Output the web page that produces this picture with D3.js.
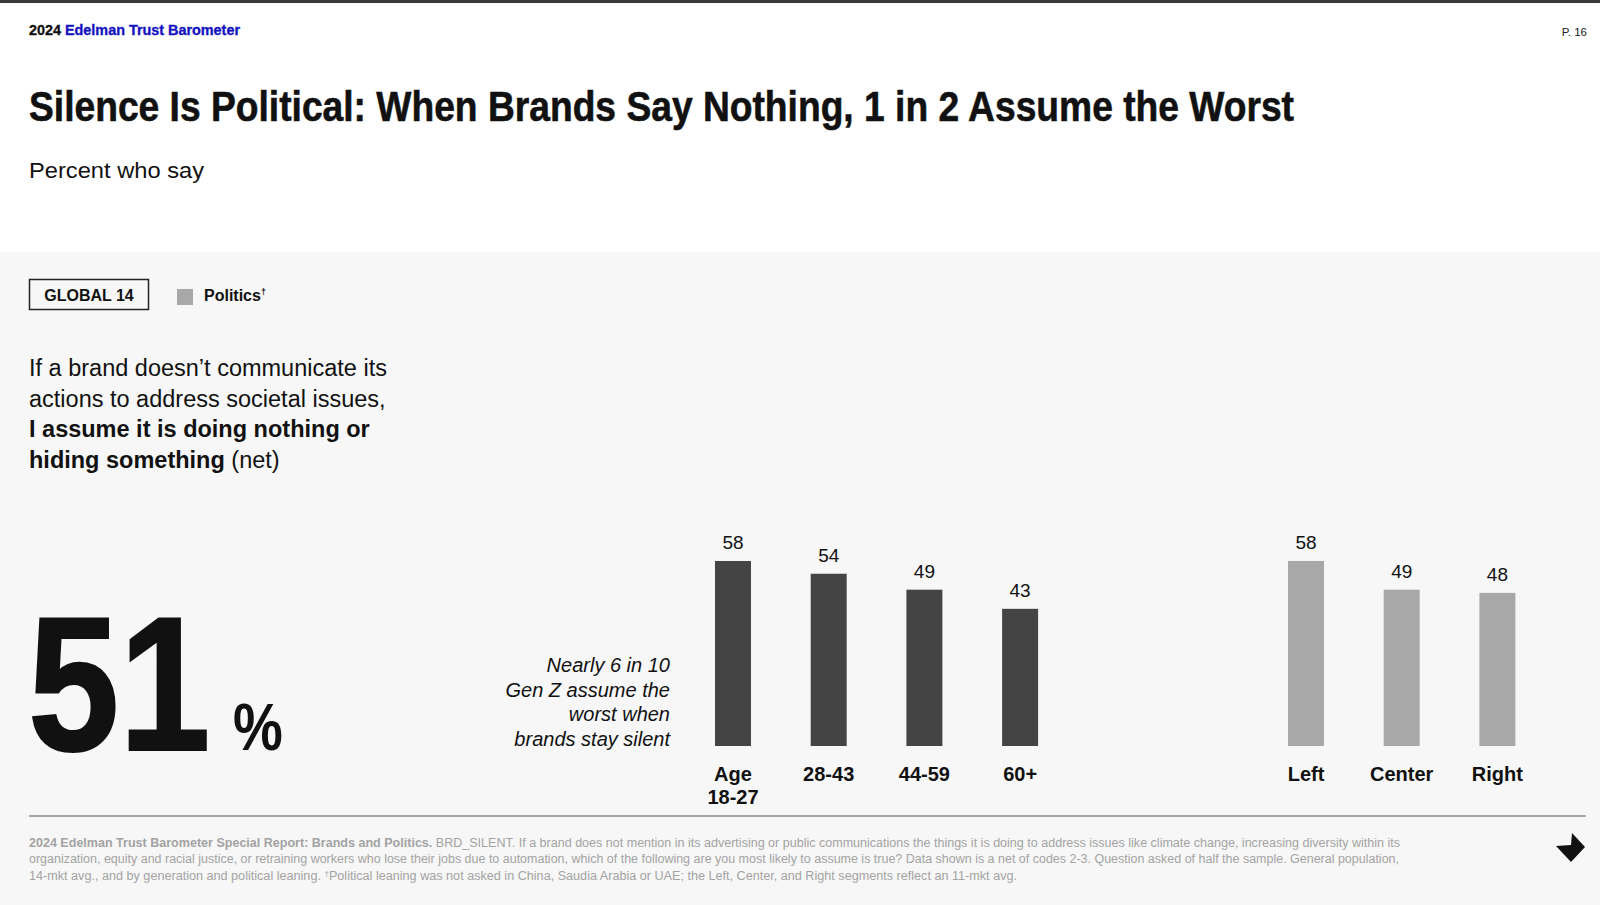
<!DOCTYPE html>
<html>
<head>
<meta charset="utf-8">
<script src="https://cdn.jsdelivr.net/npm/d3@7"></script>
<style>
  html, body { margin: 0; padding: 0; background: #ffffff; }
  svg { display: block; }
  text { font-family: "Liberation Sans", Arial, Helvetica, sans-serif; }
</style>
</head>
<body>
<svg id="chart" width="1600" height="905"></svg>
<script>
// ---- Data ----
const ageCategories = ["Age 18-27", "28-43", "44-59", "60+"];
const ageValues = [58, 54, 49, 43];
const politicsCategories = ["Left", "Center", "Right"];
const politicsValues = [58, 49, 48];
const headlineValue = 51;
const legendLabels = ["Politics"];

const W = 1600, H = 905;
const svg = d3.select("#chart");

// Backgrounds
svg.append("rect").attr("x", 0).attr("y", 0).attr("width", W).attr("height", H).attr("fill", "#ffffff");
svg.append("rect").attr("x", 0).attr("y", 252).attr("width", W).attr("height", H - 252).attr("fill", "#f7f7f7");
svg.append("rect").attr("x", 0).attr("y", 0).attr("width", W).attr("height", 3).attr("fill", "#3a3a3a");

// Header
const hdr = svg.append("text").attr("x", 29).attr("y", 35)
  .attr("font-size", 15.5).attr("font-weight", "bold")
  .attr("textLength", 211).attr("lengthAdjust", "spacingAndGlyphs");
hdr.append("tspan").attr("fill", "#111").attr("stroke", "#111").attr("stroke-width", 0.35).text("2024 ");
hdr.append("tspan").attr("fill", "#1212c0").attr("stroke", "#1212c0").attr("stroke-width", 0.35).text("Edelman Trust Barometer");

svg.append("text").attr("x", 1587).attr("y", 36).attr("text-anchor", "end")
  .attr("font-size", 11.5).attr("fill", "#222").text("P. 16");

// Title
svg.append("text").attr("x", 29).attr("y", 121)
  .attr("font-size", 42).attr("font-weight", "bold").attr("fill", "#111")
  .attr("stroke", "#111").attr("stroke-width", 0.6)
  .attr("textLength", 1265).attr("lengthAdjust", "spacingAndGlyphs")
  .text("Silence Is Political: When Brands Say Nothing, 1 in 2 Assume the Worst");

svg.append("text").attr("x", 29).attr("y", 178)
  .attr("font-size", 22.5).attr("fill", "#111")
  .attr("textLength", 175).attr("lengthAdjust", "spacingAndGlyphs")
  .text("Percent who say");

// GLOBAL 14 box
svg.append("rect").attr("x", 29.5).attr("y", 279.5).attr("width", 119).attr("height", 30)
  .attr("fill", "none").attr("stroke", "#222").attr("stroke-width", 1.5);
svg.append("text").attr("x", 89).attr("y", 301).attr("text-anchor", "middle")
  .attr("font-size", 16).attr("font-weight", "bold").attr("fill", "#111")
  .text("GLOBAL 14");

// Legend
svg.append("rect").attr("x", 177).attr("y", 289).attr("width", 16).attr("height", 16).attr("fill", "#a8a8a8");
const lg = svg.append("text").attr("x", 204).attr("y", 301)
  .attr("font-size", 16).attr("font-weight", "bold").attr("fill", "#111");
lg.append("tspan").text(legendLabels[0]);
lg.append("tspan").attr("font-size", 9).attr("dy", -6).text("†");

// Question text
const qLines = [
  [{t: "If a brand doesn\u2019t communicate its", b: false}],
  [{t: "actions to address societal issues,", b: false}],
  [{t: "I assume it is doing nothing or", b: true}],
  [{t: "hiding something", b: true}, {t: " (net)", b: false}]
];
qLines.forEach((line, i) => {
  const t = svg.append("text").attr("x", 29).attr("y", 376 + i * 30.7)
    .attr("font-size", 23.5).attr("fill", "#111");
  line.forEach(s => t.append("tspan").attr("font-weight", s.b ? "bold" : "normal").text(s.t));
});

// Big number (horizontally condensed via vertical stretch)
svg.append("text").attr("transform", "translate(28,750) scale(1,1.17)")
  .attr("font-size", 164).attr("font-weight", "bold").attr("fill", "#111")
  .attr("stroke", "#111").attr("stroke-width", 1.8)
  .text(String(headlineValue));
svg.append("text").attr("transform", "translate(233,750) scale(1,1.2)")
  .attr("font-size", 56).attr("font-weight", "bold").attr("fill", "#111")
  .text("%");

// Annotation
const annot = ["Nearly 6 in 10", "Gen Z assume the", "worst when", "brands stay silent"];
annot.forEach((s, i) => {
  svg.append("text").attr("x", 670).attr("y", 672 + i * 24.6).attr("text-anchor", "end")
    .attr("font-size", 20).attr("font-style", "italic").attr("fill", "#111").text(s);
});

// Scales
const y = d3.scaleLinear().domain([0, 100]).range([746, 427]);
const xAge = d3.scaleBand().domain(ageCategories).range([715, 1038.1]).paddingInner(0.624).paddingOuter(0);
const xPol = d3.scaleBand().domain(politicsCategories).range([1288, 1515.4]).paddingInner(0.624).paddingOuter(0);

function drawGroup(cats, vals, x, color) {
  const data = cats.map((c, i) => ({c, v: vals[i]}));
  const g = svg.append("g");
  g.selectAll("rect").data(data).join("rect")
    .attr("x", d => x(d.c)).attr("width", x.bandwidth())
    .attr("y", d => y(d.v)).attr("height", d => y(0) - y(d.v))
    .attr("fill", color);
  g.selectAll("text.val").data(data).join("text").attr("class", "val")
    .attr("x", d => x(d.c) + x.bandwidth() / 2).attr("y", d => y(d.v) - 12)
    .attr("text-anchor", "middle").attr("font-size", 19).attr("fill", "#111")
    .text(d => d.v);
  // axis labels
  const axis = d3.axisBottom(x).tickSize(0).tickPadding(0);
  const ag = svg.append("g").attr("transform", `translate(0,${y(0)})`).call(axis);
  ag.select(".domain").remove();
  ag.selectAll(".tick text").each(function(d) {
    const el = d3.select(this);
    el.text(null).attr("font-size", 20).attr("font-weight", "bold").attr("fill", "#111")
      .attr("font-family", "Liberation Sans, Arial, sans-serif").attr("dy", null).attr("y", 0);
    const parts = d.startsWith("Age ") ? ["Age", d.slice(4)] : [d];
    parts.forEach((p, i) => el.append("tspan").attr("x", 0).attr("y", 35 + i * 23).text(p));
  });
}
drawGroup(ageCategories, ageValues, xAge, "#444444");
drawGroup(politicsCategories, politicsValues, xPol, "#a8a8a8");

// Rule
svg.append("line").attr("x1", 29).attr("x2", 1586).attr("y1", 816).attr("y2", 816)
  .attr("stroke", "#8a8a8a").attr("stroke-width", 1.5);

// Footnote
const fn = [
  {w: 1371, parts: [{t: "2024 Edelman Trust Barometer Special Report: Brands and Politics.", b: true},
    {t: " BRD_SILENT. If a brand does not mention in its advertising or public communications the things it is doing to address issues like climate change, increasing diversity within its", b: false}]},
  {w: 1370, parts: [{t: "organization, equity and racial justice, or retraining workers who lose their jobs due to automation, which of the following are you most likely to assume is true? Data shown is a net of codes 2-3. Question asked of half the sample. General population,", b: false}]},
  {w: 988, parts: [{t: "14-mkt avg., and by generation and political leaning.  ", b: false}, {t: "†", b: false, sup: true},
    {t: "Political leaning was not asked in China, Saudia Arabia or UAE; the Left, Center, and Right segments reflect an 11-mkt avg.", b: false}]}
];
fn.forEach((line, i) => {
  const t = svg.append("text").attr("x", 29).attr("y", 847 + i * 16.3)
    .attr("font-size", 12.5).attr("fill", "#a3a3a3")
    .attr("textLength", line.w).attr("lengthAdjust", "spacingAndGlyphs");
  line.parts.forEach(s => {
    const ts = t.append("tspan").attr("font-weight", s.b ? "bold" : "normal").text(s.t);
    if (s.sup) ts.attr("font-size", 8).attr("baseline-shift", "super");
  });
});

// Arrow
const arrowPts = [[1572, 833], [1585, 847], [1571, 862], [1556, 846], [1571, 845]];
svg.append("path").attr("d", d3.line()(arrowPts) + "Z").attr("fill", "#111");
</script>
</body>
</html>
